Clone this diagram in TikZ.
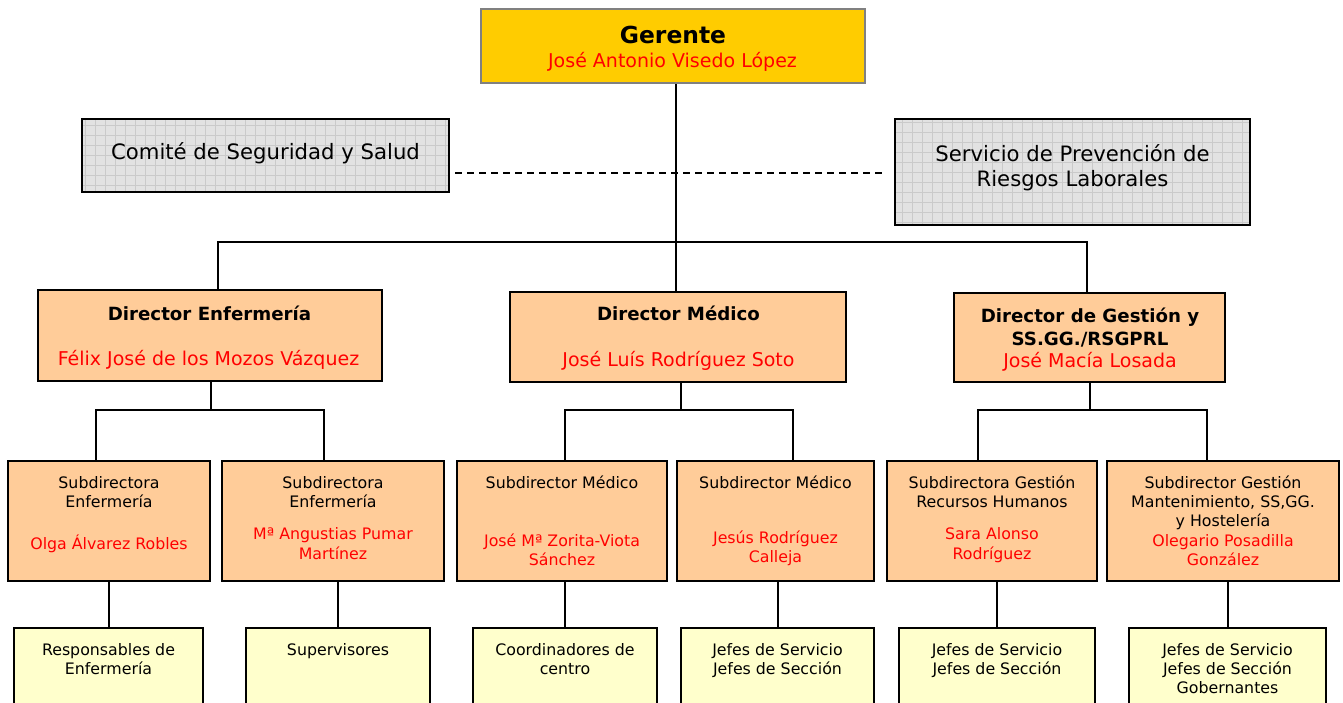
\documentclass[tikz,border=0pt]{standalone}
\usepackage{fontspec}
\setmainfont{DejaVu Sans}
\usetikzlibrary{backgrounds}
\pgfdeclarelayer{edgelayer}
\pgfdeclarelayer{nodelayer}
\pgfsetlayers{edgelayer,nodelayer,main}
\definecolor{amarillo}{HTML}{FFCC00}
\definecolor{naranja}{HTML}{FFCC99}
\definecolor{crema}{HTML}{FFFFCC}
\definecolor{gris}{HTML}{E2E2E2}
\definecolor{rejilla}{HTML}{CACACA}
\definecolor{nombre}{HTML}{FF0000}
\tikzstyle{none}=[inner sep=0pt]
\tikzstyle{txt}=[inner sep=0pt, anchor=base, align=center]
\tikzstyle{gerentebox}=[draw=gray, line width=2pt, fill=amarillo]
\tikzstyle{comitebox}=[draw=black, line width=2pt, fill=gris, path picture={
	\draw[rejilla, line width=0.7pt, step=10pt] (path picture bounding box.south west) grid (path picture bounding box.north east);}]
\tikzstyle{dirbox}=[draw=black, line width=2pt, fill=naranja]
\tikzstyle{subbox}=[draw=black, line width=2pt, fill=naranja, minimum height=120]
\tikzstyle{basebox}=[draw=black, line width=2pt, fill=crema, minimum height=132]
\tikzstyle{gerentetxt}=[txt, font=\fontsize{23.4}{28}\selectfont\bfseries]
\tikzstyle{comitetxt}=[txt, font=\fontsize{21.2}{25}\selectfont]
\tikzstyle{dirtxt}=[txt, font=\fontsize{18.2}{22.7}\selectfont\bfseries]
\tikzstyle{nomdir}=[txt, text=nombre, font=\fontsize{19}{23}\selectfont]
\tikzstyle{subtxt}=[txt, font=\fontsize{15.8}{19.4}\selectfont]
\tikzstyle{nomsub}=[txt, text=nombre, font=\fontsize{15.8}{19.4}\selectfont]
\tikzstyle{linea}=[line width=2pt, line join=miter]
\tikzstyle{discontinua}=[line width=1.5pt, dash pattern=on 7pt off 5pt]

\begin{document}
\begin{tikzpicture}[x=1pt, y=-1pt]
	\useasboundingbox (0, 0) rectangle (1343, 703);
	\begin{pgfonlayer}{nodelayer}
		\node [style=gerentebox, minimum width=384, minimum height=74] (0) at (673, 46) {};
		\node [style=comitebox, minimum width=367, minimum height=73] (1) at (265.5, 155.5) {};
		\node [style=comitebox, minimum width=355, minimum height=106] (2) at (1072.5, 172) {};
		\node [style=dirbox, minimum width=344, minimum height=91] (3) at (210, 335.5) {};
		\node [style=dirbox, minimum width=336, minimum height=90] (4) at (678, 337) {};
		\node [style=dirbox, minimum width=271, minimum height=89] (5) at (1089.5, 337.5) {};
		\node [style=subbox, minimum width=202] (6) at (109, 521) {};
		\node [style=subbox, minimum width=222] (7) at (333, 521) {};
		\node [style=subbox, minimum width=210] (8) at (562, 521) {};
		\node [style=subbox, minimum width=197] (9) at (775.5, 521) {};
		\node [style=subbox, minimum width=210] (10) at (992, 521) {};
		\node [style=subbox, minimum width=232] (11) at (1223, 521) {};
		\node [style=basebox, minimum width=189] (12) at (108.5, 694) {};
		\node [style=basebox, minimum width=184] (13) at (338, 694) {};
		\node [style=basebox, minimum width=184] (14) at (565, 694) {};
		\node [style=basebox, minimum width=193] (15) at (777.5, 694) {};
		\node [style=basebox, minimum width=196] (16) at (997, 694) {};
		\node [style=basebox, minimum width=197] (17) at (1227.5, 694) {};
		\node [style=gerentetxt] (18) at (673, 44) {Gerente};
		\node [style=nomdir] (19) at (672.5, 68) {José Antonio Visedo López};
		\node [style=comitetxt] (20) at (265.5, 160) {Comité de Seguridad y Salud};
		\node [style=comitetxt] (21) at (1072.5, 186.7) {Servicio de Prevención de\\Riesgos Laborales};
		\node [style=dirtxt] (22) at (209.5, 320) {Director Enfermería};
		\node [style=nomdir] (23) at (208.5, 365) {Félix José de los Mozos Vázquez};
		\node [style=dirtxt] (24) at (678.5, 320.7) {Director Médico};
		\node [style=nomdir] (25) at (678.5, 366.7) {José Luís Rodríguez Soto};
		\node [style=dirtxt] (26) at (1090, 345) {Director de Gestión y\\SS.GG./RSGPRL};
		\node [style=nomdir] (27) at (1090, 367.7) {José Macía Losada};
		\node [style=subtxt] (28) at (109, 507.5) {Subdirectora\\Enfermería};
		\node [style=nomsub] (29) at (109, 549) {Olga Álvarez Robles};
		\node [style=subtxt] (30) at (333, 507.5) {Subdirectora\\Enfermería};
		\node [style=nomsub] (31) at (333, 559.2) {Mª Angustias Pumar\\Martínez};
		\node [style=subtxt] (32) at (562, 488) {Subdirector Médico};
		\node [style=nomsub] (33) at (562, 565.7) {José Mª Zorita-Viota\\Sánchez};
		\node [style=subtxt] (34) at (775.5, 488) {Subdirector Médico};
		\node [style=nomsub] (35) at (775.5, 562.7) {Jesús Rodríguez\\Calleja};
		\node [style=subtxt] (36) at (992, 507.5) {Subdirectora Gestión\\Recursos Humanos};
		\node [style=nomsub] (37) at (992, 559.2) {Sara Alonso\\Rodríguez};
		\node [style=subtxt] (38) at (1223, 526.8) {Subdirector Gestión\\Mantenimiento, SS,GG.\\y Hostelería};
		\node [style=nomsub] (39) at (1223, 565.7) {Olegario Posadilla\\González};
		\node [style=subtxt] (40) at (108.5, 674.4) {Responsables de\\Enfermería};
		\node [style=subtxt] (41) at (338, 655) {Supervisores};
		\node [style=subtxt] (42) at (565, 674.4) {Coordinadores de\\centro};
		\node [style=subtxt] (43) at (777.5, 674.4) {Jefes de Servicio\\Jefes de Sección};
		\node [style=subtxt] (44) at (997, 674.4) {Jefes de Servicio\\Jefes de Sección};
		\node [style=subtxt] (45) at (1227.5, 693.8) {Jefes de Servicio\\Jefes de Sección\\Gobernantes};
		\node [style=none] (46) at (676, 242) {};
		\node [style=none] (47) at (218, 242) {};
		\node [style=none] (48) at (1087, 242) {};
		\node [style=none] (49) at (455, 173) {};
		\node [style=none] (50) at (882, 173) {};
		\node [style=none] (51) at (211, 410) {};
		\node [style=none] (52) at (96, 410) {};
		\node [style=none] (53) at (324, 410) {};
		\node [style=none] (54) at (681, 410) {};
		\node [style=none] (55) at (565, 410) {};
		\node [style=none] (56) at (793, 410) {};
		\node [style=none] (57) at (1090, 410) {};
		\node [style=none] (58) at (978, 410) {};
		\node [style=none] (59) at (1207, 410) {};
	\end{pgfonlayer}
	\begin{pgfonlayer}{edgelayer}
		\draw [style=linea] (0.south -| 46.center) to (4.north -| 46.center);
		\draw [style=linea] (3.north -| 47.center) to (47.center) to (48.center) to (5.north -| 48.center);
		\draw [style=discontinua] (49.center) to (50.center);
		\draw [style=linea] (3.south -| 51.center) to (51.center);
		\draw [style=linea] (6.north -| 52.center) to (52.center) to (53.center) to (7.north -| 53.center);
		\draw [style=linea] (4.south -| 54.center) to (54.center);
		\draw [style=linea] (8.north -| 55.center) to (55.center) to (56.center) to (9.north -| 56.center);
		\draw [style=linea] (5.south -| 57.center) to (57.center);
		\draw [style=linea] (10.north -| 58.center) to (58.center) to (59.center) to (11.north -| 59.center);
		\draw [style=linea] (6.south -| 12.north) to (12.north);
		\draw [style=linea] (7.south -| 13.north) to (13.north);
		\draw [style=linea] (8.south -| 14.north) to (14.north);
		\draw [style=linea] (9.south -| 15.north) to (15.north);
		\draw [style=linea] (10.south -| 16.north) to (16.north);
		\draw [style=linea] (11.south -| 17.north) to (17.north);
	\end{pgfonlayer}
\end{tikzpicture}
\end{document}
